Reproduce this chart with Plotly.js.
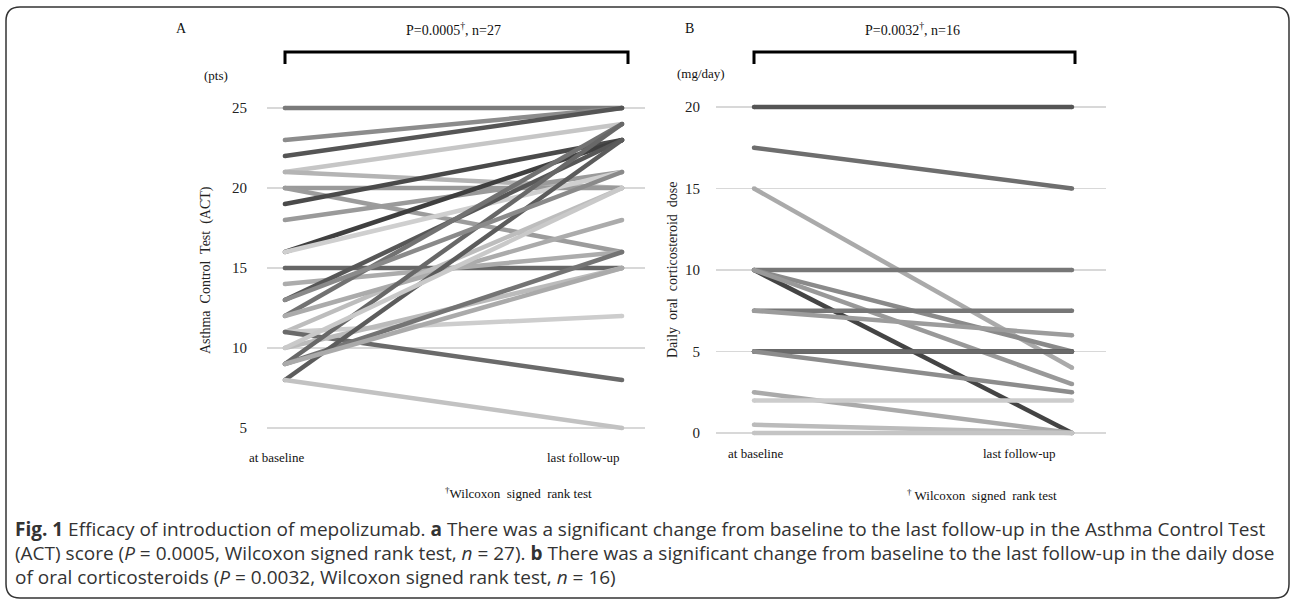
<!DOCTYPE html>
<html>
<head>
<meta charset="utf-8">
<script src="https://cdn.plot.ly/plotly-3.0.1.min.js"></script>
<style>
html,body{margin:0;padding:0;background:#fff;}
#chart{width:1292px;height:601px;}
</style>
</head>
<body>
<div id="chart"></div>
<script>
// ---------- DATA ----------
const timePoints = ["at baseline", "last follow-up"];
const timeX = [0, 1];

// Panel A: Asthma Control Test (ACT) score, n = 27
const actBaseline = [25, 23, 22, 21, 21, 20, 20, 19, 18, 16, 16, 15, 14, 13, 12, 11, 11, 11, 10, 12, 9, 9, 8, 8, 10, 13, 9];
const actFollowUp = [25, 25, 25, 24, 20, 20, 16, 23, 21, 23, 21, 15, 16, 23, 24, 20, 12, 8, 15, 18, 24, 16, 23, 5, 20, 21, 15];
const actTicks = [5, 10, 15, 20, 25];

// Panel B: daily oral corticosteroid dose (mg/day), n = 16
const ocsBaseline = [20, 17.5, 15, 10, 10, 10, 10, 7.5, 7.5, 5, 5, 5, 2.5, 2, 0.5, 0];
const ocsFollowUp = [20, 15, 4, 10, 0, 5, 3, 7.5, 6, 5, 5, 2.5, 0, 2, 0, 0];
const ocsTicks = [0, 5, 10, 15, 20];

// grey palettes (styles)
const greysA = ["#7a7a7a","#8c8c8c","#555555","#c6c6c6","#b4b4b4","#9a9a9a","#9c9c9c","#4a4a4a","#9a9a9a","#3f3f3f","#cfcfcf","#666666","#acacac","#575757","#727272","#bdbdbd","#cdcdcd","#6a6a6a","#bbbbbb","#ababab","#686868","#747474","#5c5c5c","#c2c2c2","#c9c9c9","#8a8a8a","#aaaaaa"];
const greysB = ["#555555","#6e6e6e","#aaaaaa","#777777","#444444","#8a8a8a","#999999","#777777","#9c9c9c","#333333","#6a6a6a","#8c8c8c","#aaaaaa","#cccccc","#bbbbbb","#c4c4c4"];

// ---------- HELPERS ----------
const W = 1292, H = 601;
const px = x => x / W;
const py = y => 1 - y / H;
const serif = "Liberation Serif, Times New Roman, serif";

const traces = [];
actBaseline.forEach((b, i) => {
  traces.push({
    x: timeX, y: [b, actFollowUp[i]], xaxis: "x", yaxis: "y",
    mode: "lines+markers", type: "scatter", hoverinfo: "skip", showlegend: false,
    line: {color: greysA[i], width: 4.5},
    marker: {color: greysA[i], size: 4.5}
  });
});
ocsBaseline.forEach((b, i) => {
  traces.push({
    x: timeX, y: [b, ocsFollowUp[i]], xaxis: "x2", yaxis: "y2",
    mode: "lines+markers", type: "scatter", hoverinfo: "skip", showlegend: false,
    line: {color: greysB[i], width: 4.5},
    marker: {color: greysB[i], size: 4.5}
  });
});

const axisCommon = {
  showline: false, zeroline: false, fixedrange: true
};

const layout = {
  width: W, height: H,
  margin: {l: 0, r: 0, t: 0, b: 0},
  paper_bgcolor: "#ffffff", plot_bgcolor: "rgba(0,0,0,0)",
  showlegend: false,
  xaxis: Object.assign({}, axisCommon, {
    domain: [px(267), px(645)], range: [-0.053, 1.068],
    showgrid: false, showticklabels: false, ticks: ""
  }),
  yaxis: Object.assign({}, axisCommon, {
    domain: [py(434.4), py(101.6)], range: [4.6, 25.4],
    tickvals: actTicks, ticktext: actTicks.map(String),
    showgrid: true, gridcolor: "#d8d8d8", gridwidth: 1.5,
    ticks: "outside", ticklen: 16, tickcolor: "rgba(0,0,0,0)",
    tickfont: {family: serif, size: 15, color: "#222"}
  }),
  xaxis2: Object.assign({}, axisCommon, {
    domain: [px(716), px(1106)], range: [-0.1195, 1.107],
    showgrid: false, showticklabels: false, ticks: "", anchor: "y2"
  }),
  yaxis2: Object.assign({}, axisCommon, {
    domain: [py(439.5), py(100.5)], range: [-0.4, 20.4], anchor: "x2",
    tickvals: ocsTicks, ticktext: ocsTicks.map(String),
    showgrid: true, gridcolor: "#d8d8d8", gridwidth: 1.5,
    ticks: "outside", ticklen: 12, tickcolor: "rgba(0,0,0,0)",
    tickfont: {family: serif, size: 15, color: "#222"}
  }),
  shapes: [],
  annotations: []
};

// rounded outer frame
(function(){
  const l = 6, t = 7, r = 1289, b = 598, rad = 14;
  const p = `M ${px(l)},${py(b - rad)} L ${px(l)},${py(t + rad)} Q ${px(l)},${py(t)} ${px(l + rad)},${py(t)} L ${px(r - rad)},${py(t)} Q ${px(r)},${py(t)} ${px(r)},${py(t + rad)} L ${px(r)},${py(b - rad)} Q ${px(r)},${py(b)} ${px(r - rad)},${py(b)} L ${px(l + rad)},${py(b)} Q ${px(l)},${py(b)} ${px(l)},${py(b - rad)} Z`;
  layout.shapes.push({type: "path", xref: "paper", yref: "paper", path: p, line: {color: "#333", width: 1.5}, fillcolor: "rgba(0,0,0,0)"});
})();

// significance brackets
function bracket(x0, x1, yTop, yBot) {
  const p = `M ${px(x0)},${py(yBot)} L ${px(x0)},${py(yTop)} L ${px(x1)},${py(yTop)} L ${px(x1)},${py(yBot)}`;
  layout.shapes.push({type: "path", xref: "paper", yref: "paper", path: p, line: {color: "#000", width: 3}});
}
bracket(285, 628, 52, 64);
bracket(754, 1075, 52, 64);

function ann(text, x, y, opts) {
  layout.annotations.push(Object.assign({
    text: text, xref: "paper", yref: "paper", x: px(x), y: py(y),
    xanchor: "center", yanchor: "middle", showarrow: false,
    font: {family: serif, size: 14, color: "#111"}
  }, opts || {}));
}

// Panel A texts
ann("A", 181, 29);
ann("P=0.0005<sup>†</sup>, n=27", 453, 29);
ann("(pts)", 216, 75, {font: {family: serif, size: 13, color: "#111"}});
ann("Asthma&nbsp; Control&nbsp; Test&nbsp; (ACT)", 206, 270, {textangle: -90, font: {family: serif, size: 14, color: "#222"}});
ann(timePoints[0], 276, 457, {font: {family: serif, size: 13, color: "#111"}});
ann(timePoints[1], 583, 457, {font: {family: serif, size: 13, color: "#111"}});
ann("<sup>†</sup>Wilcoxon&nbsp; signed&nbsp; rank test", 518, 493, {font: {family: serif, size: 13, color: "#111"}});

// Panel B texts
ann("B", 689, 29);
ann("P=0.0032<sup>†</sup>, n=16", 912, 29);
ann("(mg/day)", 701, 73, {font: {family: serif, size: 13, color: "#111"}});
ann("Daily&nbsp; oral&nbsp; corticosteroid&nbsp; dose", 672, 270, {textangle: -90, font: {family: serif, size: 14, color: "#222"}});
ann(timePoints[0], 755, 453, {font: {family: serif, size: 13, color: "#111"}});
ann(timePoints[1], 1019, 453, {font: {family: serif, size: 13, color: "#111"}});
ann("<sup>†</sup> Wilcoxon&nbsp; signed&nbsp; rank test", 982, 495, {font: {family: serif, size: 13, color: "#111"}});

// caption
const capFont = {family: "Open Sans, sans-serif", size: 19, color: "#333"};
const capLines = [
  "<b>Fig. 1</b> Efficacy of introduction of mepolizumab. <b>a</b> There was a significant change from baseline to the last follow-up in the Asthma Control Test",
  "(ACT) score (<i>P</i> = 0.0005, Wilcoxon signed rank test, <i>n</i> = 27). <b>b</b> There was a significant change from baseline to the last follow-up in the daily dose",
  "of oral corticosteroids (<i>P</i> = 0.0032, Wilcoxon signed rank test, <i>n</i> = 16)"
];
capLines.forEach((t, i) => ann(t, 13, 529 + i * 24, {xanchor: "left", font: capFont}));

Plotly.newPlot("chart", traces, layout, {displayModeBar: false, staticPlot: true});
</script>
</body>
</html>
